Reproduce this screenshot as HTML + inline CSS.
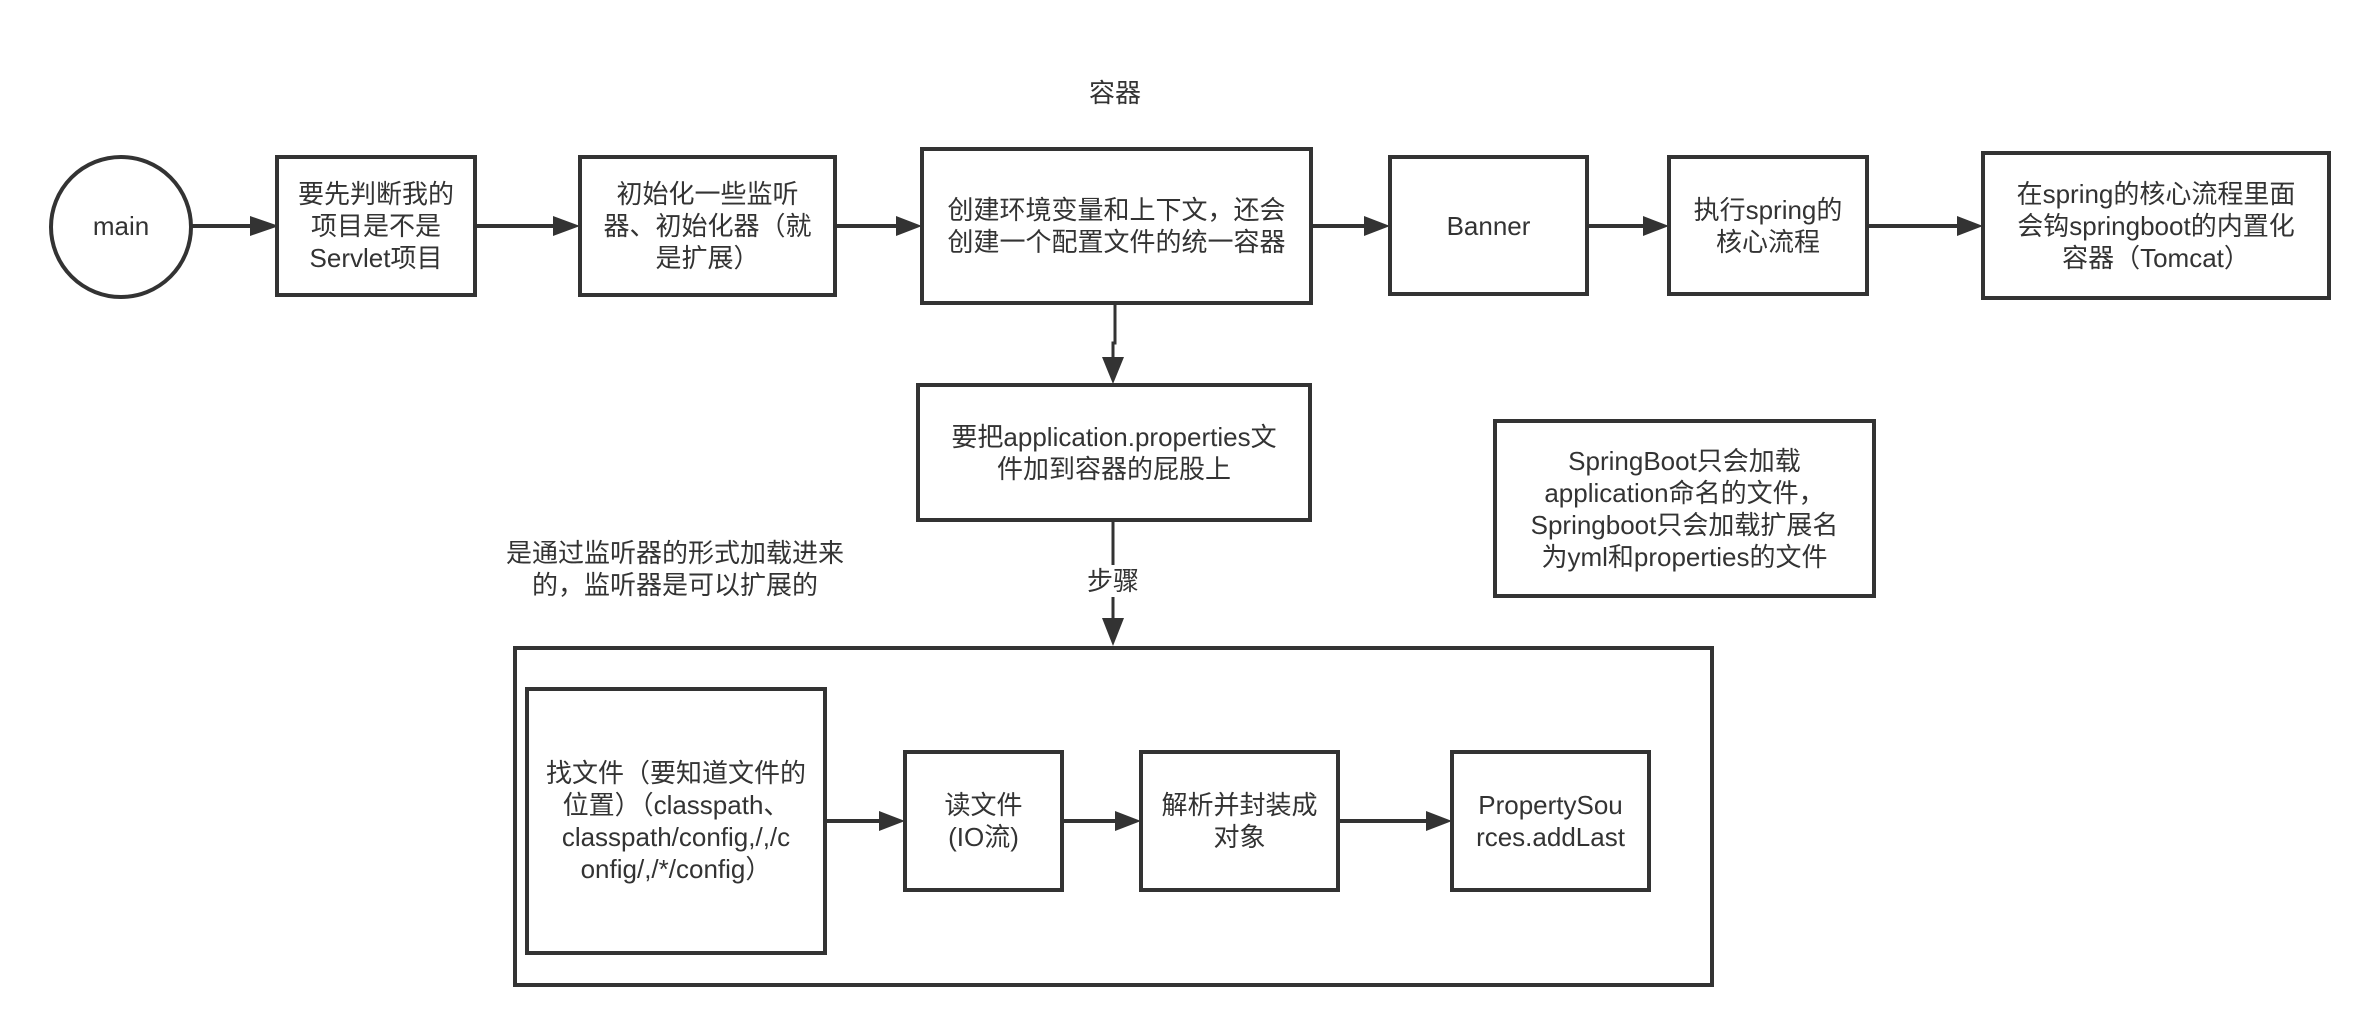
<!DOCTYPE html>
<html><head><meta charset="utf-8"><style>
body{margin:0;width:2380px;height:1036px;background:#fff;position:relative;overflow:hidden;font-family:"Liberation Sans","Noto Sans CJK SC",sans-serif;color:#333}
.b{position:absolute;box-sizing:border-box;border:4px solid #333;display:flex;align-items:center;justify-content:center;text-align:center;font-size:26px;line-height:32px;background:#fff}
.t{position:absolute;text-align:center;font-size:26px;line-height:32px;transform:translateX(-50%);white-space:nowrap}
svg{position:absolute;left:0;top:0}
</style></head><body>
<svg width="2380" height="1036">
<g stroke="#333" stroke-width="4" fill="none">
<line x1="192" y1="226" x2="252" y2="226"/>
<line x1="477" y1="226" x2="555" y2="226"/>
<line x1="837" y1="226" x2="898" y2="226"/>
<line x1="1313" y1="226" x2="1366" y2="226"/>
<line x1="1589" y1="226" x2="1645" y2="226"/>
<line x1="1869" y1="226" x2="1959" y2="226"/>
<line x1="827" y1="821" x2="881" y2="821"/>
<line x1="1064" y1="821" x2="1117" y2="821"/>
<line x1="1340" y1="821" x2="1428" y2="821"/>
</g>
<g stroke="#333" stroke-width="3" fill="none">
<polyline points="1115,304 1115,343 1113,343 1113,360"/>
<line x1="1113" y1="522" x2="1113" y2="565"/>
<line x1="1113" y1="597" x2="1113" y2="620"/>
</g>
<g fill="#333">
<polygon points="250,216 279,226 250,236"/>
<polygon points="553,216 580,226 553,236"/>
<polygon points="896,216 922,226 896,236"/>
<polygon points="1364,216 1390,226 1364,236"/>
<polygon points="1643,216 1669,226 1643,236"/>
<polygon points="1957,216 1983,226 1957,236"/>
<polygon points="879,811 905,821 879,831"/>
<polygon points="1115,811 1141,821 1115,831"/>
<polygon points="1426,811 1452,821 1426,831"/>
<polygon points="1102,357 1124,357 1113,384"/>
<polygon points="1102,618 1124,618 1113,646"/>
</g>
<ellipse cx="121" cy="227" rx="70" ry="70" stroke="#333" stroke-width="4" fill="#fff"/>
</svg>
<div class="t" style="left:121px;top:210px">main</div>
<div class="t" style="left:1115px;top:77px">容器</div>
<div class="b" style="left:275px;top:155px;width:202px;height:142px">要先判断我的<br>项目是不是<br>Servlet项目</div>
<div class="b" style="left:578px;top:155px;width:259px;height:142px">初始化一些监听<br>器、初始化器（就<br>是扩展）</div>
<div class="b" style="left:920px;top:147px;width:393px;height:158px">创建环境变量和上下文，还会<br>创建一个配置文件的统一容器</div>
<div class="b" style="left:1388px;top:155px;width:201px;height:141px">Banner</div>
<div class="b" style="left:1667px;top:155px;width:202px;height:141px">执行spring的<br>核心流程</div>
<div class="b" style="left:1981px;top:151px;width:350px;height:149px">在spring的核心流程里面<br>会钩springboot的内置化<br>容器（Tomcat）</div>
<div class="b" style="left:916px;top:383px;width:396px;height:139px">要把application.properties文<br>件加到容器的屁股上</div>
<div class="b" style="left:1493px;top:419px;width:383px;height:179px">SpringBoot只会加载<br>application命名的文件，<br>Springboot只会加载扩展名<br>为yml和properties的文件</div>
<div class="t" style="left:675px;top:537px">是通过监听器的形式加载进来<br>的，监听器是可以扩展的</div>
<div class="t" style="left:1113px;top:565px">步骤</div>
<div class="b" style="left:513px;top:646px;width:1201px;height:341px;background:none"></div>
<div class="b" style="left:525px;top:687px;width:302px;height:268px">找文件（要知道文件的<br>位置）（classpath、<br>classpath/config,/,/c<br>onfig/,/*/config）</div>
<div class="b" style="left:903px;top:750px;width:161px;height:142px">读文件<br>(IO流)</div>
<div class="b" style="left:1139px;top:750px;width:201px;height:142px">解析并封装成<br>对象</div>
<div class="b" style="left:1450px;top:750px;width:201px;height:142px">PropertySou<br>rces.addLast</div>
</body></html>
